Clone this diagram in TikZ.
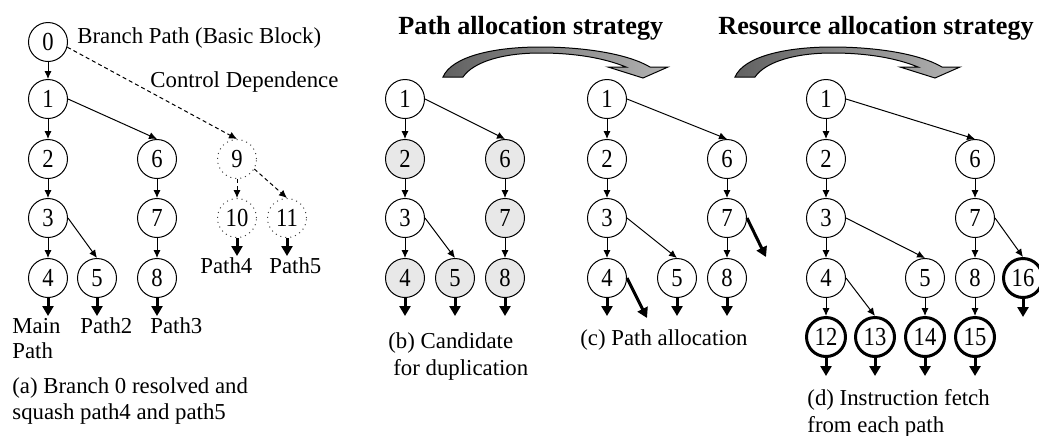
\documentclass[tikz,border=0pt]{standalone}
\usepackage{fontspec}
\setmainfont{Liberation Serif}
\newfontfamily\digitfont[FakeStretch=0.87]{Liberation Serif}
\usetikzlibrary{arrows.meta}

\tikzset{
  blk/.style={circle, draw, line width=0.5pt, minimum size=19.5pt, inner sep=0pt,
              font=\digitfont\fontsize{13}{13}\selectfont},
  dup/.style={blk, fill=black!9},
  squashed/.style={blk, draw=black!75, dotted},
  fetched/.style={blk, line width=1.5pt},
  edgearrow/.style={-{Latex[length=4pt,width=3.6pt]}, line width=0.5pt},
  ctrl/.style={edgearrow, dash pattern=on 2pt off 1.5pt},
  exitarrow/.style={-{Triangle[length=5pt,width=5.5pt]}, line width=1.5pt},
  lbl/.style={anchor=base west, inner sep=0pt, font=\fontsize{11.4}{13}\selectfont},
  ttl/.style={anchor=base west, inner sep=0pt, font=\bfseries\fontsize{13.1}{15}\selectfont},
  bigarrow/.style={draw=black, line width=0.5pt, left color=black!62, right color=black!30}
}

% curved block arrow between two panels
\newcommand\strategyarrow{%
  \path[bigarrow] (443,77) .. controls (452,56) and (495,47) .. (540,47)
    .. controls (585,47) and (628,54) .. (650,67) -- (668,67) -- (643,78)
    -- (608,67) -- (626,67) .. controls (604,58) and (575,53) .. (540,53)
    .. controls (505,53) and (474,61) .. (463,77) -- cycle;}

\begin{document}
\begin{tikzpicture}[x=0.5pt, y=-0.5pt]
\useasboundingbox (0,0) rectangle (1039,435);

% ---------- (a) ----------
\node[blk] (a0) at (48,42) {0};
\node[blk] (a1) at (48,99) {1};
\node[blk] (a2) at (48,159) {2};
\node[blk] (a3) at (48,218) {3};
\node[blk] (a4) at (48,278) {4};
\node[blk] (a5) at (97,278) {5};
\node[blk] (a6) at (157,159) {6};
\node[blk] (a7) at (157,218) {7};
\node[blk] (a8) at (157,278) {8};
\node[squashed] (a9) at (237,159) {9};
\node[squashed] (a10) at (237,218) {10};
\node[squashed] (a11) at (287,218) {11};

\draw[edgearrow] (a0) -- (a1);
\draw[edgearrow] (a1) -- (a2);
\draw[edgearrow] (a2) -- (a3);
\draw[edgearrow] (a3) -- (a4);
\draw[edgearrow] (a6) -- (a7);
\draw[edgearrow] (a7) -- (a8);
\draw[edgearrow] (a1.east) -- (a6.north);
\draw[edgearrow] (a3.east) -- (a5.north);
\draw[ctrl] (a0.-15) -- (a9.north);
\draw[ctrl] (a9) -- (a10);
\draw[ctrl] (a9.-30) -- (a11.north);
\foreach \n in {a4,a5,a8,a10,a11} \draw[exitarrow] (\n.south) -- ++(0,18);

\node[lbl] (tbb) at (77,43) {Branch Path (Basic Block)};
\node[lbl] (tcd) at (150,87) {Control Dependence};
\node[lbl] (tmain) at (12,333) {Main};
\node[lbl] (tmain2) at (12,358) {Path};
\node[lbl] (tp2) at (80,333) {Path2};
\node[lbl] (tp3) at (150,333) {Path3};
\node[lbl] (tp4) at (200,273) {Path4};
\node[lbl] (tp5) at (269,273) {Path5};
\node[lbl] (capa1) at (12,393) {(a) Branch 0 resolved and};
\node[lbl] (capa2) at (12,419) {squash path4 and path5};

% ---------- titles and strategy arrows ----------
\node[ttl] (title1) at (398,34) {Path allocation strategy};
\node[ttl] (title2) at (718,34) {Resource allocation strategy};
\strategyarrow
\begin{scope}[shift={(292,0)}]
\strategyarrow
\end{scope}

% ---------- (b) ----------
\node[blk] (b1) at (405,99) {1};
\node[dup] (b2) at (405,159) {2};
\node[blk] (b3) at (405,218) {3};
\node[dup] (b4) at (405,278) {4};
\node[dup] (b5) at (455,278) {5};
\node[dup] (b6) at (505,159) {6};
\node[dup] (b7) at (505,218) {7};
\node[dup] (b8) at (505,278) {8};
\draw[edgearrow] (b1) -- (b2);
\draw[edgearrow] (b2) -- (b3);
\draw[edgearrow] (b3) -- (b4);
\draw[edgearrow] (b6) -- (b7);
\draw[edgearrow] (b7) -- (b8);
\draw[edgearrow] (b1.east) -- (b6.north);
\draw[edgearrow] (b3.east) -- (b5.north);
\foreach \n in {b4,b5,b8} \draw[exitarrow] (\n.south) -- ++(0,18);
\node[lbl] (capb1) at (388,348) {(b) Candidate};
\node[lbl] (capb2) at (393,375) {for duplication};

% ---------- (c) ----------
\node[blk] (c1) at (607,99) {1};
\node[blk] (c2) at (607,159) {2};
\node[blk] (c3) at (607,218) {3};
\node[blk] (c4) at (607,278) {4};
\node[blk] (c5) at (677,278) {5};
\node[blk] (c6) at (727,159) {6};
\node[blk] (c7) at (727,218) {7};
\node[blk] (c8) at (727,278) {8};
\draw[edgearrow] (c1) -- (c2);
\draw[edgearrow] (c2) -- (c3);
\draw[edgearrow] (c3) -- (c4);
\draw[edgearrow] (c6) -- (c7);
\draw[edgearrow] (c7) -- (c8);
\draw[edgearrow] (c1.east) -- (c6.north);
\draw[edgearrow] (c3.east) -- (c5.north);
\foreach \n in {c4,c5,c8} \draw[exitarrow] (\n.south) -- ++(0,18);
\draw[exitarrow] (c4.east) -- ++(20,40);
\draw[exitarrow] (c7.east) -- ++(19,39);
\node[lbl] (capc) at (580,345) {(c) Path allocation};

% ---------- (d) ----------
\node[blk] (d1) at (826,99) {1};
\node[blk] (d2) at (826,159) {2};
\node[blk] (d3) at (826,218) {3};
\node[blk] (d4) at (826,278) {4};
\node[blk] (d5) at (925,278) {5};
\node[blk] (d6) at (975,159) {6};
\node[blk] (d7) at (975,218) {7};
\node[blk] (d8) at (975,278) {8};
\node[fetched] (d16) at (1023,278) {16};
\node[fetched] (d12) at (826,337) {12};
\node[fetched] (d13) at (875,337) {13};
\node[fetched] (d14) at (925,337) {14};
\node[fetched] (d15) at (975,337) {15};
\draw[edgearrow] (d1) -- (d2);
\draw[edgearrow] (d2) -- (d3);
\draw[edgearrow] (d3) -- (d4);
\draw[edgearrow] (d4) -- (d12);
\draw[edgearrow] (d5) -- (d14);
\draw[edgearrow] (d6) -- (d7);
\draw[edgearrow] (d7) -- (d8);
\draw[edgearrow] (d8) -- (d15);
\draw[edgearrow] (d1.east) -- (d6.north);
\draw[edgearrow] (d3.east) -- (d5.north);
\draw[edgearrow] (d4.east) -- (d13.north);
\draw[edgearrow] (d7.east) -- (d16.north);
\foreach \n in {d12,d13,d14,d15,d16} \draw[exitarrow] (\n.south) -- ++(0,18);
\node[lbl] (capd1) at (807,405) {(d) Instruction fetch};
\node[lbl] (capd2) at (807,432) {from each path};
\end{tikzpicture}
\end{document}
